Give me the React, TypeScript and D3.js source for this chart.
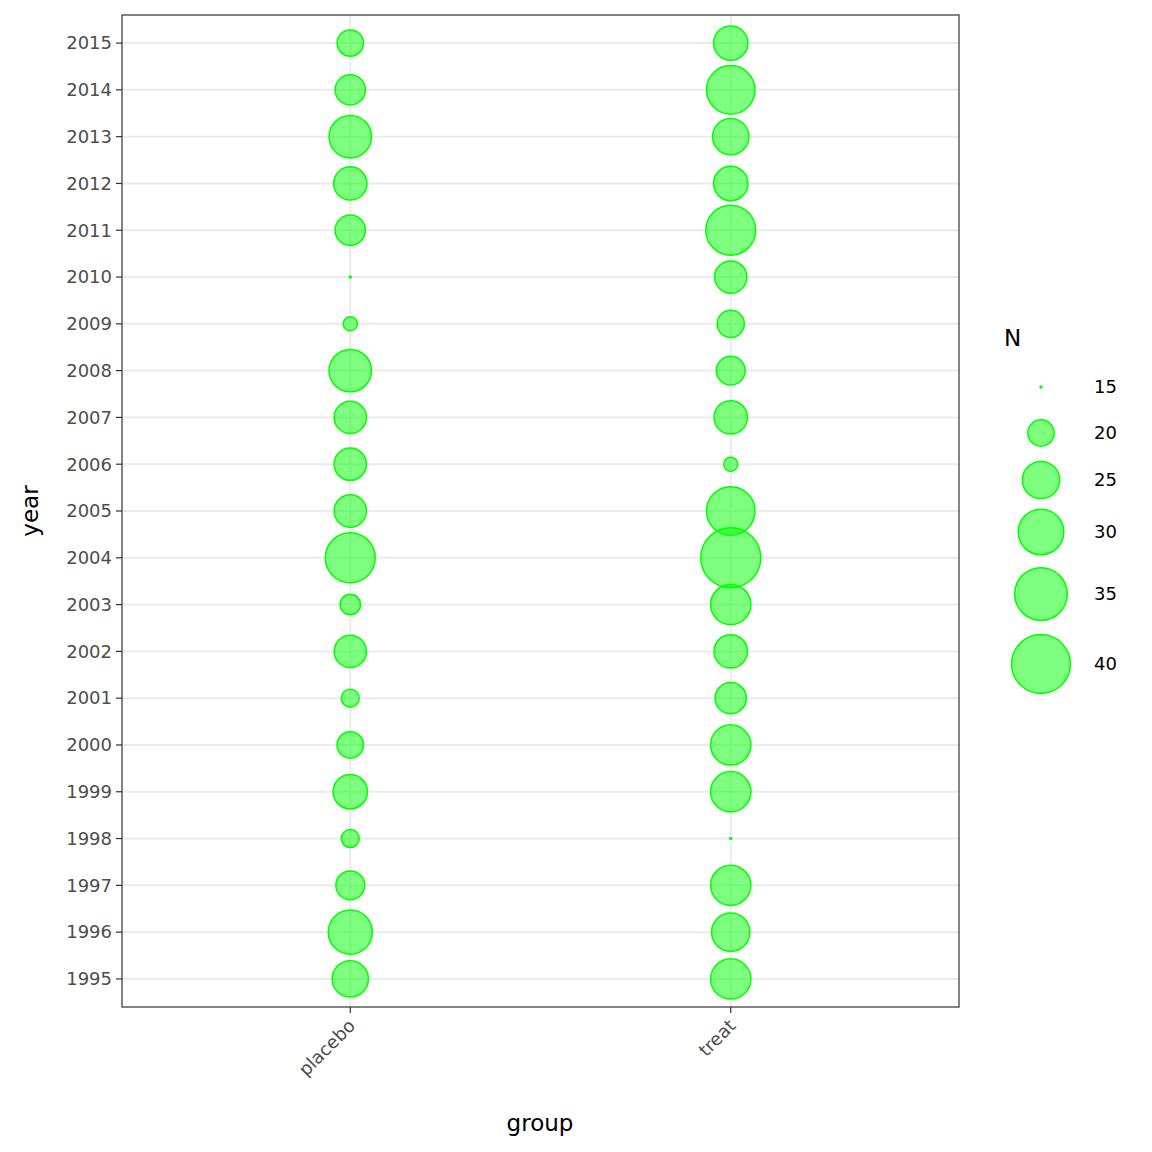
import React from "react";
import * as d3 from "d3";

const years = ["1995","1996","1997","1998","1999","2000","2001","2002","2003","2004","2005","2006","2007","2008","2009","2010","2011","2012","2013","2014","2015"];
const groups = ["placebo", "treat"];
const placeboN = [24.5,29,21,17.3,23.5,20,17.3,22.5,18,33,22.5,22.5,22.5,28,16.4,15,21.6,23,28,21.6,20];
const treatN = [26.7,25.6,26.7,15,26.7,26.7,22,23,26.7,41,32,16.4,23,21,20.3,22.5,33,23.5,24.5,32,23.5];
const legendBreaks = [15, 20, 25, 30, 35, 40];
const legendY = [387, 433, 480, 532, 594, 664];

export default function App() {
  const L = 122, R = 959, T = 15, B = 1007;
  const x = d3.scalePoint().domain(groups).range([L, R]).padding(0.6);
  const y = d3.scalePoint().domain(years).range([B, T]).padding(0.6);
  const area = d3.scaleLinear().domain([15, 41]).range([1, 900]);
  const r = (n: number) => Math.sqrt(Math.max(0.5, area(n)));
  const pts = [
    ...placeboN.map((n, i) => ({ g: "placebo", y: years[i], n })),
    ...treatN.map((n, i) => ({ g: "treat", y: years[i], n })),
  ];
  const font = "DejaVu Sans, sans-serif";
  return (
    <svg width={1152} height={1152} style={{ position: "absolute", left: 0, top: 0, fontFamily: font }}>
      <rect width={1152} height={1152} fill="white" />
      {years.map(yr => <line key={yr} x1={L} x2={R} y1={y(yr)} y2={y(yr)} stroke="#ebebeb" strokeWidth={2} />)}
      {groups.map(g => <line key={g} x1={x(g)} x2={x(g)} y1={T} y2={B} stroke="#ebebeb" strokeWidth={2} />)}
      {pts.map((p, i) => (
        <circle key={i} cx={x(p.g)} cy={y(p.y)} r={r(p.n)} fill="rgba(0,255,0,0.5)" stroke="#00ff00" strokeWidth={1.5} />
      ))}
      <rect x={L} y={T} width={R - L} height={B - T} fill="none" stroke="#333" strokeWidth={1.2} />
      {years.map(yr => (
        <g key={yr}>
          <line x1={L - 6} x2={L} y1={y(yr)} y2={y(yr)} stroke="#333" strokeWidth={1.2} />
          <text x={L - 10} y={y(yr)} dy="0.35em" textAnchor="end" fontSize={18} fill="#4d4d4d">{yr}</text>
        </g>
      ))}
      {groups.map(g => (
        <g key={g}>
          <line x1={x(g)} x2={x(g)} y1={B} y2={B + 6} stroke="#333" strokeWidth={1.2} />
          <text transform={`translate(${x(g)! + 6},${B + 20}) rotate(-45)`} textAnchor="end" fontSize={18} fill="#4d4d4d">{g}</text>
        </g>
      ))}
      <text x={540} y={1131} textAnchor="middle" fontSize={23}>group</text>
      <text transform="translate(38,511) rotate(-90)" textAnchor="middle" fontSize={23}>year</text>
      <text x={1004} y={346} fontSize={23}>N</text>
      {legendBreaks.map((b, i) => (
        <g key={b}>
          <circle cx={1041} cy={legendY[i]} r={r(b)} fill="rgba(0,255,0,0.5)" stroke="#00ff00" strokeWidth={1.5} />
          <text x={1094} y={legendY[i]} dy="0.35em" fontSize={18}>{b}</text>
        </g>
      ))}
    </svg>
  );
}
